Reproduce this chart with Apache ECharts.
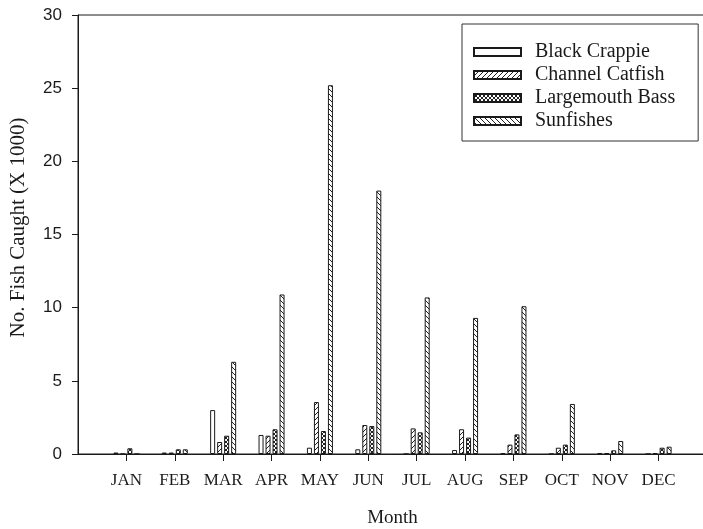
<!DOCTYPE html>
<html>
<head>
<meta charset="utf-8">
<script src="https://cdn.jsdelivr.net/npm/echarts@6/dist/echarts.min.js"></script>
<style>
  html, body { margin: 0; padding: 0; background: #fff; }
  #chart { width: 703px; height: 529px; }
</style>
</head>
<body>
<div id="chart"></div>
<script>
// Monthly catch (thousands of fish) by species
const months = ['JAN', 'FEB', 'MAR', 'APR', 'MAY', 'JUN', 'JUL', 'AUG', 'SEP', 'OCT', 'NOV', 'DEC'];
const blackCrappie   = [0.1, 0.1, 3.0, 1.3, 0.43, 0.32, 0, 0.27, 0.05, 0, 0.07, 0];
const channelCatfish = [0, 0.1, 0.82, 1.25, 3.55, 1.98, 1.75, 1.69, 0.64, 0.43, 0.07, 0.05];
const largemouthBass = [0.39, 0.32, 1.25, 1.69, 1.57, 1.91, 1.48, 1.12, 1.34, 0.64, 0.25, 0.43];
const sunfishes      = [0, 0.32, 6.3, 10.9, 25.2, 18.0, 10.7, 9.3, 10.1, 3.42, 0.89, 0.5];
const yTicks = { min: 0, max: 30, step: 5 };

// Category axis spans an empty slot before JAN and after DEC
const cats = [''].concat(months, ['']);
const pad = arr => [null].concat(arr, [null]);

// Hatch fills
function hatch(kind) {
  const s = kind === 'cross' ? 4 : 5;
  const c = document.createElement('canvas');
  c.width = s; c.height = s;
  const g = c.getContext('2d');
  g.fillStyle = '#fff';
  g.fillRect(0, 0, s, s);
  g.strokeStyle = '#222';
  g.lineWidth = 1;
  const fwd = () => {
    g.beginPath();
    g.moveTo(-1, s + 1); g.lineTo(s + 1, -1);
    g.moveTo(-1, 1); g.lineTo(1, -1);
    g.moveTo(s - 1, s + 1); g.lineTo(s + 1, s - 1);
    g.stroke();
  };
  const back = () => {
    g.beginPath();
    g.moveTo(-1, -1); g.lineTo(s + 1, s + 1);
    g.moveTo(-1, s - 1); g.lineTo(1, s + 1);
    g.moveTo(s - 1, -1); g.lineTo(s + 1, 1);
    g.stroke();
  };
  if (kind === 'fwd') fwd();
  else if (kind === 'back') back();
  else { fwd(); back(); }
  return { image: c, repeat: 'repeat' };
}

const serif = '"Liberation Serif", "Times New Roman", serif';
const sans = '"Liberation Sans", Arial, sans-serif';
const ink = '#1a1a1a';

function barSeries(name, values, fill) {
  return {
    name: name,
    type: 'bar',
    data: pad(values),
    barWidth: 5,
    barGap: '40%',
    itemStyle: { color: fill, borderColor: ink, borderWidth: 1 },
    emphasis: { disabled: true },
    animation: false
  };
}

const chart = echarts.init(document.getElementById('chart'), null, { renderer: 'canvas' });
chart.setOption({
  backgroundColor: '#fff',
  animation: false,
  grid: {
    left: 78, top: 15, height: 439, width: 629,
    outerBoundsMode: 'none',
    containLabel: false,
    show: true, borderColor: ink, borderWidth: 1, backgroundColor: 'transparent'
  },
  legend: {
    orient: 'vertical',
    left: 462, top: 24,
    padding: [18, 23, 10, 11],
    itemWidth: 47, itemHeight: 8, itemGap: 3,
    icon: 'rect',
    borderColor: '#333', borderWidth: 1,
    textStyle: { fontFamily: serif, fontSize: 20, color: ink, padding: [0, 0, 0, 9] },
    data: ['Black Crappie', 'Channel Catfish', 'Largemouth Bass', 'Sunfishes']
  },
  xAxis: {
    type: 'category',
    data: cats,
    boundaryGap: false,
    name: 'Month',
    nameLocation: 'middle',
    nameGap: 55,
    nameTextStyle: { fontFamily: serif, fontSize: 19, color: ink },
    axisLine: { lineStyle: { color: ink, width: 1 } },
    axisTick: {
      length: 7,
      interval: (i) => i >= 1 && i <= months.length,
      lineStyle: { color: ink }
    },
    axisLabel: {
      interval: 0, margin: 18,
      fontFamily: serif, fontSize: 17, color: ink
    },
    splitLine: { show: false }
  },
  yAxis: {
    type: 'value',
    min: yTicks.min, max: yTicks.max, interval: yTicks.step,
    name: 'No. Fish Caught (X 1000)',
    nameLocation: 'middle',
    nameGap: 49,
    nameTextStyle: { fontFamily: serif, fontSize: 21, color: ink, padding: [0, 0, 0, 14] },
    axisLine: { show: true, lineStyle: { color: ink, width: 1 } },
    axisTick: { show: true, length: 6, lineStyle: { color: ink } },
    axisLabel: { margin: 16, fontFamily: sans, fontSize: 17, color: ink },
    splitLine: { show: false }
  },
  series: [
    barSeries('Black Crappie', blackCrappie, '#fff'),
    barSeries('Channel Catfish', channelCatfish, hatch('fwd')),
    barSeries('Largemouth Bass', largemouthBass, hatch('cross')),
    barSeries('Sunfishes', sunfishes, hatch('back'))
  ]
});
</script>
</body>
</html>
